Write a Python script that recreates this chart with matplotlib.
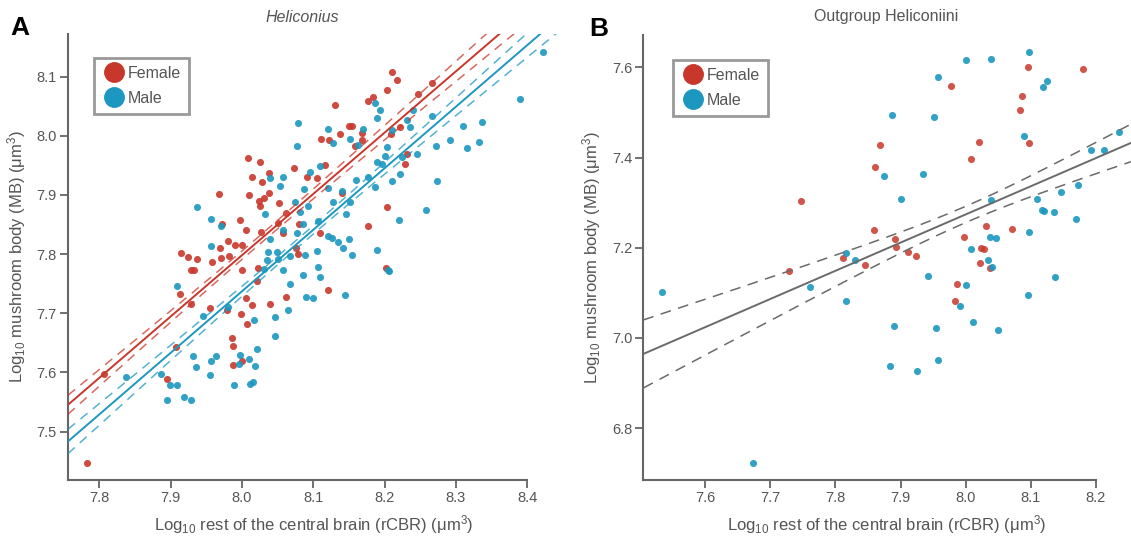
import matplotlib.pyplot as plt
from matplotlib.lines import Line2D
import numpy as np

plt.rcParams['font.family'] = ['Liberation Sans', 'DejaVu Sans']
plt.rcParams['mathtext.default'] = 'regular'

RED = '#c8372b'
BLUE = '#1c97c0'
AXIS_GREY = '#666666'
TEXT_GREY = '#555555'

# Panel A - Heliconius (log10 rCBR, log10 MB)
fem_a_x = [8.131, 8.177, 8.184, 8.150, 8.154, 8.138, 8.111, 8.122, 8.169, 8.168,
           8.159, 8.009, 8.026, 8.073, 8.014, 8.038, 8.091, 8.105, 8.028, 8.116,
           7.968, 8.010, 8.038, 8.031, 8.024, 8.026, 8.052, 8.062, 8.140, 7.997,
           7.972, 8.051, 8.080, 8.006, 8.027, 8.177, 8.109, 7.981, 7.990, 8.000,
           7.969, 7.971, 7.958, 8.076, 8.079, 7.915, 7.925, 7.937, 7.982, 7.928,
           7.933, 8.000, 8.023, 8.058,
           8.211, 8.218, 8.203, 8.266, 8.247, 8.222, 8.209, 8.231, 8.228, 8.204,
           8.202,
           8.021, 8.120, 8.062, 8.039, 8.005, 8.014, 8.007, 7.998, 7.979, 7.955,
           7.929, 7.913, 7.986, 7.987, 7.988, 8.000, 7.908, 7.895, 7.807, 7.782]
fem_a_y = [8.052, 8.059, 8.066, 8.017, 8.017, 8.003, 7.994, 7.993, 8.005, 7.993,
           7.982, 7.962, 7.956, 7.945, 7.930, 7.937, 7.931, 7.929, 7.922, 7.951,
           7.902, 7.900, 7.903, 7.895, 7.889, 7.882, 7.887, 7.870, 7.903, 7.857,
           7.851, 7.853, 7.851, 7.841, 7.838, 7.848, 7.835, 7.822, 7.816, 7.816,
           7.810, 7.793, 7.787, 7.810, 7.800, 7.802, 7.795, 7.792, 7.797, 7.773,
           7.773, 7.773, 7.776, 7.836,
           8.107, 8.094, 8.078, 8.089, 8.071, 8.014, 8.003, 7.969, 7.952, 7.879,
           7.776,
           7.755, 7.740, 7.728, 7.716, 7.726, 7.714, 7.681, 7.699, 7.705, 7.708,
           7.716, 7.732, 7.658, 7.644, 7.612, 7.620, 7.643, 7.588, 7.598, 7.446]

male_a_x = [8.187, 8.194, 8.189, 8.079, 8.077, 8.120, 8.170, 8.151, 8.127, 8.163,
            8.109, 8.095, 8.057, 8.040, 8.054, 8.087, 8.121, 8.140, 8.160, 8.177,
            8.187, 8.189, 7.937, 7.956, 8.033, 8.074, 8.093, 8.081, 8.128, 8.146,
            8.151, 7.970, 8.040, 8.057, 8.077, 8.086, 8.107, 8.120, 8.126, 8.135,
            8.150, 7.956, 8.037, 8.049, 8.035, 8.051, 8.068, 8.089, 8.105, 8.142,
            8.154, 8.189, 8.058, 8.085, 8.106, 8.109, 8.031,
            8.422, 8.390, 8.337, 8.310, 8.292, 8.332, 8.315, 8.272, 8.246, 8.266,
            8.240, 8.235, 8.232, 8.225, 8.222, 8.211, 8.274, 8.258, 8.220, 8.203,
            8.205, 8.211, 8.200, 8.196,
            7.909, 8.067, 8.090, 8.099, 8.144, 8.065, 8.046, 8.047, 8.017, 8.021,
            8.019, 8.010, 7.997, 7.996, 7.981, 7.945, 7.932, 7.936, 7.956, 7.964,
            7.955, 7.886, 7.899, 7.909, 7.895, 7.919, 7.928, 7.989, 8.011, 8.016,
            7.838, 8.206]
male_a_y = [8.056, 8.044, 8.030, 8.022, 7.983, 8.011, 8.011, 7.994, 7.988, 7.985,
            7.949, 7.938, 7.931, 7.928, 7.915, 7.910, 7.911, 7.907, 7.926, 7.931,
            7.914, 7.956, 7.879, 7.860, 7.868, 7.888, 7.882, 7.871, 7.888, 7.868,
            7.888, 7.847, 7.825, 7.841, 7.836, 7.851, 7.856, 7.831, 7.827, 7.820,
            7.826, 7.814, 7.804, 7.804, 7.790, 7.792, 7.796, 7.798, 7.806, 7.810,
            7.798, 7.807, 7.773, 7.765, 7.778, 7.762, 7.775,
            8.142, 8.062, 8.023, 8.016, 7.993, 7.990, 7.979, 7.982, 7.969, 8.033,
            8.043, 8.014, 8.026, 7.964, 7.936, 7.924, 7.924, 7.874, 7.858, 7.981,
            7.773, 8.010, 7.966, 7.952,
            7.746, 7.749, 7.728, 7.726, 7.730, 7.705, 7.694, 7.662, 7.689, 7.639,
            7.611, 7.623, 7.630, 7.614, 7.710, 7.696, 7.627, 7.609, 7.619, 7.627,
            7.595, 7.598, 7.579, 7.578, 7.554, 7.559, 7.554, 7.579, 7.581, 7.584,
            7.592, 7.772]

# Panel B - outgroup Heliconiini
fem_b_x = [7.747, 7.812, 7.846, 7.728, 8.096, 8.180, 7.978, 8.087, 8.083, 7.868,
           7.861, 8.021, 8.008, 8.098, 7.859, 7.891, 7.893, 7.911, 7.924, 7.998,
           8.032, 8.072, 8.024, 8.029, 8.022, 8.037, 7.987, 7.984]
fem_b_y = [7.304, 7.177, 7.161, 7.149, 7.601, 7.596, 7.559, 7.537, 7.505, 7.429,
           7.379, 7.435, 7.398, 7.432, 7.240, 7.219, 7.201, 7.190, 7.182, 7.223,
           7.248, 7.242, 7.200, 7.198, 7.167, 7.155, 7.119, 7.082]
male_b_x = [7.817, 7.830, 8.098, 8.001, 8.039, 7.957, 8.125, 8.119, 7.887, 7.952,
            8.090, 8.235, 8.193, 8.213, 7.874, 7.935, 7.901, 8.039, 8.173, 8.147,
            8.110, 8.118, 8.120, 8.136, 8.170, 8.098, 8.037, 8.047, 8.008, 8.034,
            8.041, 7.942, 8.138, 7.533, 7.761, 7.816, 7.674, 8.001, 7.991, 8.096,
            7.890, 7.954, 8.011, 8.050, 7.957, 7.884, 7.925]
male_b_y = [7.188, 7.173, 7.635, 7.616, 7.618, 7.579, 7.570, 7.556, 7.494, 7.491,
            7.448, 7.456, 7.417, 7.417, 7.360, 7.363, 7.308, 7.306, 7.339, 7.324,
            7.308, 7.284, 7.282, 7.280, 7.264, 7.236, 7.223, 7.221, 7.198, 7.173,
            7.157, 7.138, 7.136, 7.101, 7.113, 7.083, 6.722, 7.117, 7.071, 7.096,
            7.027, 7.023, 7.036, 7.017, 6.952, 6.938, 6.927]

# fitted lines: (value at x=8.0, slope, CI half width at centre, CI spread, centre x)
fit_a_female = (7.798, 1.036, 0.007, 0.055, 8.02)
fit_a_male = (7.737, 1.040, 0.007, 0.060, 8.08)
fit_b_all = (7.274, 0.625, 0.018, 0.148, 8.00)

xticks_a = [7.8, 7.9, 8.0, 8.1, 8.2, 8.3, 8.4]
yticks_a = [7.5, 7.6, 7.7, 7.8, 7.9, 8.0, 8.1]
xticks_b = [7.6, 7.7, 7.8, 7.9, 8.0, 8.1, 8.2]
yticks_b = [6.8, 7.0, 7.2, 7.4, 7.6]

xlabel = r'Log$_{10}$ rest of the central brain (rCBR) (μm$^3$)'
ylabel = r'Log$_{10}$ mushroom body (MB) (μm$^3$)'


def draw_fit(ax, fit, color, xlim, dash_alpha, dashes):
    mid, slope, h0, k, xc = fit
    xs = np.linspace(xlim[0], xlim[1], 200)
    ys = mid + slope * (xs - 8.0)
    half = np.sqrt(h0 ** 2 + (k * (xs - xc)) ** 2)
    ax.plot(xs, ys, color=color, lw=1.4, zorder=3)
    for sgn in (1, -1):
        ax.plot(xs, ys + sgn * half, color=color, lw=1.1, alpha=dash_alpha,
                dashes=dashes, zorder=3)


def style_axis(ax, xlim, ylim, xticks, yticks):
    ax.set_xlim(xlim)
    ax.set_ylim(ylim)
    ax.set_xticks(xticks)
    ax.set_yticks(yticks)
    ax.set_xticklabels([f'{t:.1f}' for t in xticks])
    ax.set_yticklabels([f'{t:.1f}' for t in yticks])
    for side in ('top', 'right'):
        ax.spines[side].set_visible(False)
    for side in ('left', 'bottom'):
        ax.spines[side].set_color(AXIS_GREY)
        ax.spines[side].set_linewidth(1.5)
    ax.spines['bottom'].set_bounds(xlim[0], xticks[-1])
    ax.tick_params(direction='out', length=6, width=1.3, color=AXIS_GREY,
                   labelcolor=TEXT_GREY, labelsize=10.5, pad=2)
    ax.set_xlabel(xlabel, fontsize=12, color=TEXT_GREY, labelpad=6)
    ax.set_ylabel(ylabel, fontsize=12, color=TEXT_GREY, labelpad=6)


def add_legend(ax, anchor):
    handles = [Line2D([], [], marker='o', ls='', color=RED, markersize=14),
               Line2D([], [], marker='o', ls='', color=BLUE, markersize=14)]
    leg = ax.legend(handles, ['Female', 'Male'], loc='upper left',
                    bbox_to_anchor=anchor, fontsize=11.5, frameon=True,
                    fancybox=False, handletextpad=0.15, borderpad=0.5,
                    labelspacing=0.62, handlelength=1.45, borderaxespad=0)
    frame = leg.get_frame()
    frame.set_edgecolor('#808080')
    frame.set_linewidth(2)
    for t in leg.get_texts():
        t.set_color(TEXT_GREY)


fig = plt.figure(figsize=(11.31, 5.37), dpi=100)

# Panel A
ax_a = fig.add_axes([0.0601, 0.1061, 0.435, 0.8306])
xlim_a = (7.756, 8.446)
ylim_a = (7.418, 8.172)
ax_a.scatter(fem_a_x, fem_a_y, s=26, color=RED, alpha=0.9, lw=0, zorder=2)
ax_a.scatter(male_a_x, male_a_y, s=26, color=BLUE, alpha=0.9, lw=0, zorder=2)
draw_fit(ax_a, fit_a_female, RED, xlim_a, 0.75, (6, 4.5))
draw_fit(ax_a, fit_a_male, BLUE, xlim_a, 0.75, (6, 4.5))
style_axis(ax_a, xlim_a, ylim_a, xticks_a, yticks_a)
add_legend(ax_a, (0.053, 0.947))
fig.text(302 / 1131, 1 - 17 / 537, 'Heliconius', style='italic', fontsize=11.5,
         color=TEXT_GREY, ha='center', va='center')
fig.text(20 / 1131, 1 - 28 / 537, 'A', fontsize=19, fontweight='bold',
         ha='center', va='center')

# Panel B
ax_b = fig.add_axes([0.5688, 0.1061, 0.4312, 0.8287])
xlim_b = (7.505, 8.254)
ylim_b = (6.685, 7.672)
ax_b.scatter(fem_b_x, fem_b_y, s=26, color=RED, alpha=0.85, lw=0, zorder=2)
ax_b.scatter(male_b_x, male_b_y, s=26, color=BLUE, alpha=0.9, lw=0, zorder=2)
draw_fit(ax_b, fit_b_all, '#6a6a6a', xlim_b, 1.0, (7, 5))
style_axis(ax_b, xlim_b, ylim_b, xticks_b, yticks_b)
add_legend(ax_b, (0.061, 0.944))
fig.text(886 / 1131, 1 - 17 / 537, 'Outgroup Heliconiini', fontsize=11.5,
         color=TEXT_GREY, ha='center', va='center')
fig.text(599 / 1131, 1 - 29 / 537, 'B', fontsize=19, fontweight='bold',
         ha='center', va='center')

fig.savefig('out.png', dpi=100)
